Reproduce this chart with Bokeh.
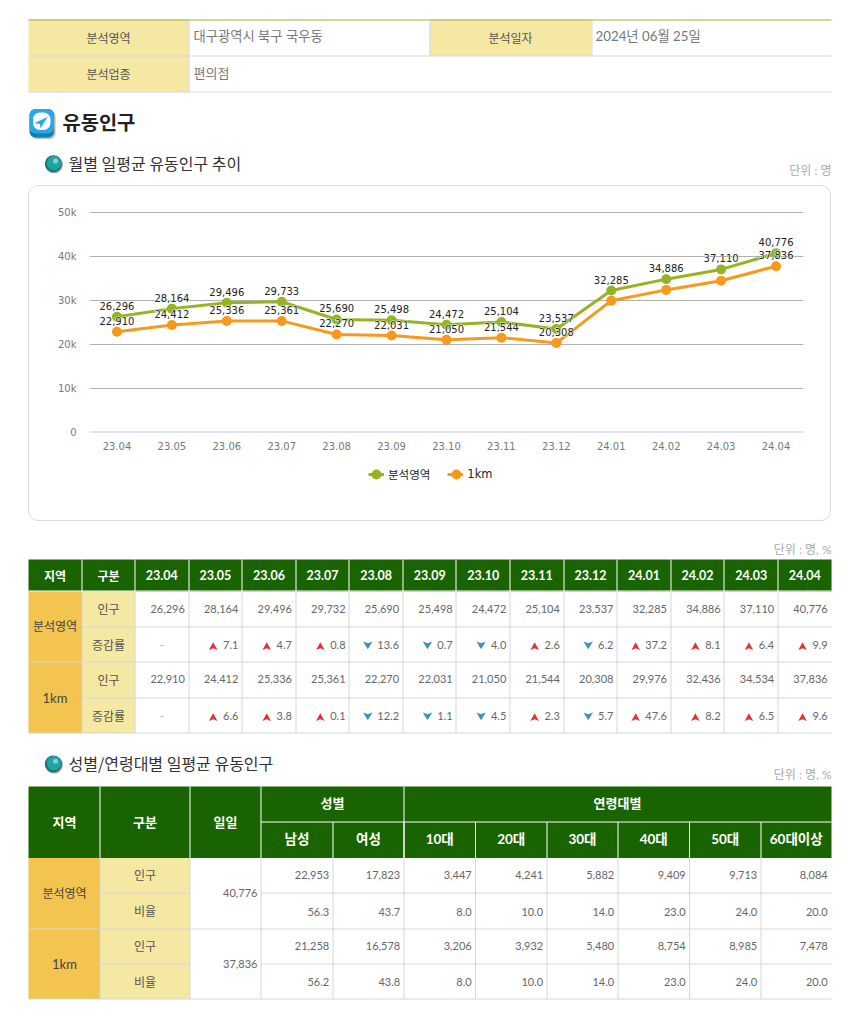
from bokeh.plotting import figure
from bokeh.layouts import column
from bokeh.models import (Range1d, FactorRange, Legend, LegendItem, Span,
                          FixedTicker, ColumnDataSource)
from bokeh.core.properties import value
from bokeh.embed import file_html
from bokeh.resources import INLINE

# ---------- data ----------
months = ["23.04", "23.05", "23.06", "23.07", "23.08", "23.09", "23.10", "23.11", "23.12",
          "24.01", "24.02", "24.03", "24.04"]
chart_area = [26296, 28164, 29496, 29733, 25690, 25498, 24472, 25104, 23537, 32285, 34886, 37110, 40776]
chart_km = [22910, 24412, 25336, 25361, 22270, 22031, 21050, 21544, 20308, 29976, 32436, 34534, 37836]
km_label_shown = [1, 1, 1, 1, 1, 1, 1, 1, 1, 0, 0, 0, 1]
y_ticks = [0, 10000, 20000, 30000, 40000, 50000]
y_tick_labels = ["0", "10k", "20k", "30k", "40k", "50k"]

table_area_pop = [26296, 28164, 29496, 29732, 25690, 25498, 24472, 25104, 23537, 32285, 34886, 37110, 40776]
table_area_rate = [None, 7.1, 4.7, 0.8, -13.6, -0.7, -4.0, 2.6, -6.2, 37.2, 8.1, 6.4, 9.9]
table_km_pop = [22910, 24412, 25336, 25361, 22270, 22031, 21050, 21544, 20308, 29976, 32436, 34534, 37836]
table_km_rate = [None, 6.6, 3.8, 0.1, -12.2, -1.1, -4.5, 2.3, -5.7, 47.6, 8.2, 6.5, 9.6]

demo_heads = ["남성", "여성", "10대", "20대", "30대", "40대", "50대", "60대이상"]
demo_area_pop = [22953, 17823, 3447, 4241, 5882, 9409, 9713, 8084]
demo_area_pct = [56.3, 43.7, 8.0, 10.0, 14.0, 23.0, 24.0, 20.0]
demo_km_pop = [21258, 16578, 3206, 3932, 5480, 8754, 8985, 7478]
demo_km_pct = [56.2, 43.8, 8.0, 10.0, 14.0, 23.0, 24.0, 20.0]
total_area, total_km = 40776, 37836

# ---------- style ----------
FONT = "Lato, 'Noto Sans CJK KR'"
CJK = "'Noto Sans CJK KR'"
CHART_FONT = "'DejaVu Sans', 'Noto Sans CJK KR'"
GREEN, ORANGE = "#95b323", "#f7991c"
HEAD, LABEL, REGION = "#196400", "#f5e8a2", "#f3c44f"
BORDER, TXT = "#d4d6db", "#666666"
PAGE_W = 841


def page_fig(y0, y1):
    p = figure(width=PAGE_W, height=y1 - y0, x_range=Range1d(0, PAGE_W), y_range=Range1d(y1, y0),
               output_backend="svg", toolbar_location=None, min_border=0, outline_line_color=None,
               frame_align=False)
    p.axis.visible = False
    p.grid.visible = False
    return p


def cells(p, cs, color):
    p.quad(left=[c[0] for c in cs], right=[c[1] for c in cs], top=[c[2] for c in cs],
           bottom=[c[3] for c in cs], fill_color=color, line_color=None)


def hline(p, xs0, xs1, ys, color=BORDER):
    p.segment(x0=xs0, x1=xs1, y0=ys, y1=ys, line_color=color, line_width=1)


def vline(p, xs, ys0, ys1, color=BORDER):
    p.segment(x0=xs, x1=xs, y0=ys0, y1=ys1, line_color=color, line_width=1)


def label(p, x, y, t, size=12, color="#555555", align="center", font=FONT, style="normal"):
    p.text(x=[x], y=[y], text=[t], text_font=value(font), text_font_size=f"{size}px",
           text_color=color, text_align=align, text_baseline="middle", text_font_style=style)


def ball(p, x, y):
    p.scatter([x + 0.8], [y + 0.8], size=17.5, color="#9a9a9a", line_color=None)
    p.scatter([x], [y], size=17, color="#137b7d", line_color=None)
    p.scatter([x + 0.6], [y - 0.8], size=14, color="#22a3a3", line_color=None)
    p.scatter([x + 2.2], [y - 2.8], size=5, color="#7fd3d3", line_color=None)


# ---------- top part ----------
top = page_fig(0, 183)
cells(top, [(28, 188.5, 19, 55.5), (429, 591, 19, 55.5), (28, 188.5, 55.5, 91.5)], LABEL)
hline(top, [28], [831], [19.5], "#a6ae3c")
hline(top, [28], [831], [55.5])
hline(top, [28], [831], [91.5])
vline(top, [188.5, 429.5, 591.5], [19.5, 19.5, 19.5], [91.5, 55.5, 55.5])
label(top, 108, 38, "분석영역", 12)
label(top, 510, 38, "분석일자", 12)
label(top, 108, 74, "분석업종", 12)
label(top, 193, 35.5, "대구광역시 북구 국우동", 13.3, "#777777", "left")
label(top, 595, 35.5, "2024년 06월 25일", 13.3, "#777777", "left")
label(top, 193, 72.5, "편의점", 13, "#777777", "left")

# icon
top.quad(left=[30.5], right=[55], top=[110], bottom=[138.5], fill_color="#b8b8b8", line_color=None, border_radius=6)
top.quad(left=[29], right=[53.5], top=[108.5], bottom=[137], fill_color="#0d7fb0", line_color=None, border_radius=6)
top.quad(left=[29], right=[53.5], top=[108.5], bottom=[133], fill_color="#27a9e6", line_color=None, border_radius=6)
top.quad(left=[32.5], right=[50], top=[112], bottom=[129.5], fill_color="#ffffff", line_color=None, border_radius=7)
top.patch([47, 34, 39.5, 40], [116.5, 122.5, 123.5, 128], fill_color="#27a9e6", line_color=None)
label(top, 62, 120.5, "유동인구", 19.8, "#222222", "left", CJK, "bold")
ball(top, 52.8, 163.3)
label(top, 68, 162, "월별 일평균 유동인구 추이", 16, "#333333", "left", CJK)
label(top, 831, 170, "단위 : 명", 12, "#a8a8a8", "right")

# ---------- chart ----------
# The value range runs a little past 0 and 50k so that the grid keeps its end lines.
F_L, F_R, F_T, F_B = 89, 803, 208, 436
C_L, C_R, C_T, C_M, C_B = 28, 831, 185, 460, 521
IN_W = C_R - C_L - 2
chart = figure(width=IN_W, height=C_M - C_T - 1, x_range=FactorRange(*months, range_padding=0),
               y_range=Range1d(-1000, 51000), output_backend="svg", toolbar_location=None,
               min_border_left=F_L - C_L - 1, min_border_right=C_R - F_R - 1,
               min_border_top=F_T - C_T - 1, min_border_bottom=C_M - F_B,
               outline_line_color=None, frame_align=False,
               border_fill_color=None, background_fill_color=None)
chart.x_range.factor_padding = 0
chart.xgrid.visible = False
chart.ygrid.grid_line_color = "#b0b0b0"
chart.ygrid.ticker = FixedTicker(ticks=y_ticks[1:])
chart.add_layout(Span(location=y_ticks[0], dimension="width", line_color="#d6dae4", line_width=1.5))
chart.yaxis.ticker = FixedTicker(ticks=y_ticks)
chart.yaxis.major_label_overrides = dict(zip(y_ticks, y_tick_labels))
for ax in (chart.xaxis[0], chart.yaxis[0]):
    ax.axis_line_color = None
    ax.major_tick_line_color = None
    ax.minor_tick_line_color = None
    ax.major_tick_out = 0
    ax.major_tick_in = 0
    ax.minor_tick_out = 0
    ax.major_label_text_font = "DejaVu Sans"
    ax.major_label_text_font_size = "10px"
    ax.major_label_text_color = "#777777"
chart.xaxis.major_label_standoff = 5
chart.yaxis.major_label_standoff = 13

src = ColumnDataSource(dict(m=months, a=chart_area, k=chart_km))
chart.line("m", "a", source=src, line_color=GREEN, line_width=3)
chart.scatter("m", "a", source=src, size=10, color=GREEN, line_color=None)
chart.line("m", "k", source=src, line_color=ORANGE, line_width=3)
chart.scatter("m", "k", source=src, size=10, color=ORANGE, line_color=None)

km_m = [m for m, f in zip(months, km_label_shown) if f]
km_v = [v for v, f in zip(chart_km, km_label_shown) if f]
for outline in (True, False):
    for xs, ys in ((months, chart_area), (km_m, km_v)):
        chart.text(x=xs, y=ys, text=[f"{v:,}" for v in ys], y_offset=-11, text_align="center",
                   text_baseline="middle", text_font=value("DejaVu Sans"), text_font_size="10px",
                   text_color="white" if outline else "#222222",
                   text_outline_color="white" if outline else None)

# legend strip, part of the same bordered box (its swatch renderers lie off the strip's range)
LEG_H = C_B - C_M - 1
leg_fig = figure(width=IN_W, height=LEG_H, x_range=Range1d(0, IN_W), y_range=Range1d(LEG_H, 0),
                 output_backend="svg", toolbar_location=None, min_border=0, outline_line_color=None,
                 frame_align=False, border_fill_color=None, background_fill_color=None)
leg_fig.axis.visible = False
leg_fig.grid.visible = False
ll1 = leg_fig.line(x=[-20, -10], y=[-20, -10], line_color=GREEN, line_width=3)
ls1 = leg_fig.scatter(x=[-20, -10], y=[-20, -10], size=10, color=GREEN, line_color=None)
ll2 = leg_fig.line(x=[-20, -10], y=[-20, -10], line_color=ORANGE, line_width=3)
ls2 = leg_fig.scatter(x=[-20, -10], y=[-20, -10], size=10, color=ORANGE, line_color=None)
legend = Legend(items=[LegendItem(label="분석영역", renderers=[ll1, ls1]),
                       LegendItem(label="1km", renderers=[ll2, ls2])],
                orientation="horizontal", location=(339, 38), background_fill_alpha=0,
                border_line_color=None, label_text_font=CHART_FONT, label_text_font_size="11.5px",
                label_text_color="#222222", glyph_width=16, glyph_height=16, spacing=17,
                padding=0, margin=0, label_standoff=4)
leg_fig.add_layout(legend, "center")
# the legend scales its markers down, so its swatches get a full-size dot on top
leg_fig.scatter(x=[376 - C_L - 1], y=[14], size=10, color=GREEN, line_color=None, level="overlay")
leg_fig.scatter(x=[456 - C_L - 1], y=[14], size=10, color=ORANGE, line_color=None, level="overlay")

chart_box = column(chart, leg_fig, spacing=0, margin=(C_T - 183, 0, 530 - C_B, C_L),
                   styles={"border": "1px solid #dcdcdc", "border-radius": "10px", "box-sizing": "border-box"})

# ---------- tables ----------
bot = page_fig(530, 1008)


def rate_cell(x_right, y, r):
    if r is None:
        label(bot, x_right - 26.8, y, "-", 11, "#aaaaaa")
        return
    t = f"{abs(r):.1f}"
    label(bot, x_right - 3.8, y - 0.5, t, 11, TXT, "right")
    w = 6.1 * (len(t) - 1) + 3
    cx = x_right - 3.8 - w - 10
    if r > 0:
        ya = y + 1
        bot.patch([cx, cx + 4.3, cx, cx - 4.3], [ya - 3.7, ya + 3.9, ya + 2.2, ya + 3.9], fill_color="#e8303a", line_color=None)
    else:
        bot.patch([cx, cx + 4.7, cx, cx - 4.7], [y + 4.2, y - 3.6, y - 1.8, y - 3.6], fill_color="#3f8fbf", line_color=None)


# table 1
T1_X = [28, 81.5, 134.5] + [134.5 + 53.58 * (i + 1) for i in range(13)]
T1_Y = [559, 591, 626.5, 661.5, 697.5, 732.5]
label(bot, 831, 549, "단위 : 명, %", 12, "#a8a8a8", "right")
cells(bot, [(T1_X[0], T1_X[-1], T1_Y[0], T1_Y[1])], HEAD)
cells(bot, [(28, 81.5, T1_Y[1], T1_Y[3]), (28, 81.5, T1_Y[3], T1_Y[5])], REGION)
cells(bot, [(81.5, 134.5, T1_Y[1], T1_Y[5])], LABEL)
hline(bot, [81.5, 81.5], [831, 831], [T1_Y[2], T1_Y[4]])
hline(bot, [28, 28], [831, 831], [T1_Y[3], T1_Y[5]])
v_in = [int(x) + 0.5 for x in T1_X[1:-1]]
vline(bot, v_in, [T1_Y[0]] * len(v_in), [T1_Y[1]] * len(v_in), "#ffffff")
vline(bot, v_in, [T1_Y[1]] * len(v_in), [T1_Y[5]] * len(v_in))
hline(bot, [28], [831], [T1_Y[1] - 0.5], "#ffffff")
label(bot, 54.5, 574.5, "지역", 12, "#ffffff", font=CJK, style="bold")
label(bot, 108, 574.5, "구분", 12, "#ffffff", font=CJK, style="bold")
for i, m in enumerate(months):
    label(bot, (T1_X[i + 2] + T1_X[i + 3]) / 2, 574.5, m, 12.5, "#ffffff", style="bold")
for (name, pop, rate, r0) in (("분석영역", table_area_pop, table_area_rate, 1), ("1km", table_km_pop, table_km_rate, 3)):
    label(bot, 54.5, T1_Y[r0 + 1] - 0.5, name, 13 if name == "1km" else 12, "#444444")
    y_pop = (T1_Y[r0] + T1_Y[r0 + 1]) / 2 + 0.5
    y_rate = (T1_Y[r0 + 1] + T1_Y[r0 + 2]) / 2 + 0.5
    label(bot, 108, y_pop, "인구", 12)
    label(bot, 108, y_rate, "증감률", 12)
    for i in range(13):
        xr = T1_X[i + 3]
        label(bot, xr - 3.8, y_pop - 1.2, f"{pop[i]:,}", 11, TXT, "right")
        rate_cell(xr, y_rate, rate[i])

# table 2
ball(bot, 52.8, 763.5)
label(bot, 68, 762, "성별/연령대별 일평균 유동인구", 16, "#333333", "left", CJK)
label(bot, 831, 774, "단위 : 명, %", 12, "#a8a8a8", "right")
T2_X = [28, 99.5, 189.5, 260.5, 332.5, 403.5, 475, 546.5, 617.5, 689, 760.5, 831]
T2_Y = [786, 821.5, 857.5, 892.5, 928.5, 963.5, 998.5]
cells(bot, [(28, 831, T2_Y[0], T2_Y[2])], HEAD)
cells(bot, [(28, 99.5, T2_Y[2], T2_Y[4]), (28, 99.5, T2_Y[4], T2_Y[6])], REGION)
cells(bot, [(99.5, 189.5, T2_Y[2], T2_Y[6])], LABEL)
vx = T2_X[1:-1]
vline(bot, vx[:3], [T2_Y[0]] * 3, [T2_Y[2]] * 3, "#ffffff")
vline(bot, [403.5], [T2_Y[0]], [T2_Y[2]], "#ffffff")
vline(bot, [332.5] + vx[4:], [T2_Y[1]] * (len(vx) - 3), [T2_Y[2]] * (len(vx) - 3), "#ffffff")
hline(bot, [260.5], [831], [T2_Y[1]], "#ffffff")
vline(bot, vx, [T2_Y[2]] * len(vx), [T2_Y[6]] * len(vx))
hline(bot, [99.5, 260.5, 99.5, 260.5], [189.5, 831, 189.5, 831], [T2_Y[3], T2_Y[3], T2_Y[5], T2_Y[5]])
hline(bot, [28, 28], [831, 831], [T2_Y[4], T2_Y[6]])
for x, t in ((64, "지역"), (144.5, "구분"), (225, "일일")):
    label(bot, x, 820.5, t, 13, "#ffffff", font=CJK, style="bold")
label(bot, 332, 801.5, "성별", 13, "#ffffff", font=CJK, style="bold")
label(bot, 617, 801.5, "연령대별", 13, "#ffffff", font=CJK, style="bold")
for i, t in enumerate(demo_heads):
    label(bot, (T2_X[i + 3] + T2_X[i + 4]) / 2, 838.5, t, 13.5, "#ffffff", style="bold")
for (name, pop, pct, total, r0) in (("분석영역", demo_area_pop, demo_area_pct, total_area, 2),
                                    ("1km", demo_km_pop, demo_km_pct, total_km, 4)):
    label(bot, 64, T2_Y[r0 + 1], name, 13 if name == "1km" else 12, "#444444")
    y1 = (T2_Y[r0] + T2_Y[r0 + 1]) / 2 - 0.5
    y2 = (T2_Y[r0 + 1] + T2_Y[r0 + 2]) / 2 + 0.5
    label(bot, 144.5, y1, "인구", 12)
    label(bot, 144.5, y2, "비율", 12)
    label(bot, 257, T2_Y[r0 + 1], f"{total:,}", 11, TXT, "right")
    for i in range(8):
        xr = T2_X[i + 4]
        label(bot, xr - 3.8, y1, f"{pop[i]:,}", 11, TXT, "right")
        label(bot, xr - 3.8, y2, f"{pct[i]:.1f}", 11, TXT, "right")

page = column(top, chart_box, bot, spacing=0)
open("out.html", "w").write(file_html(page, INLINE))
